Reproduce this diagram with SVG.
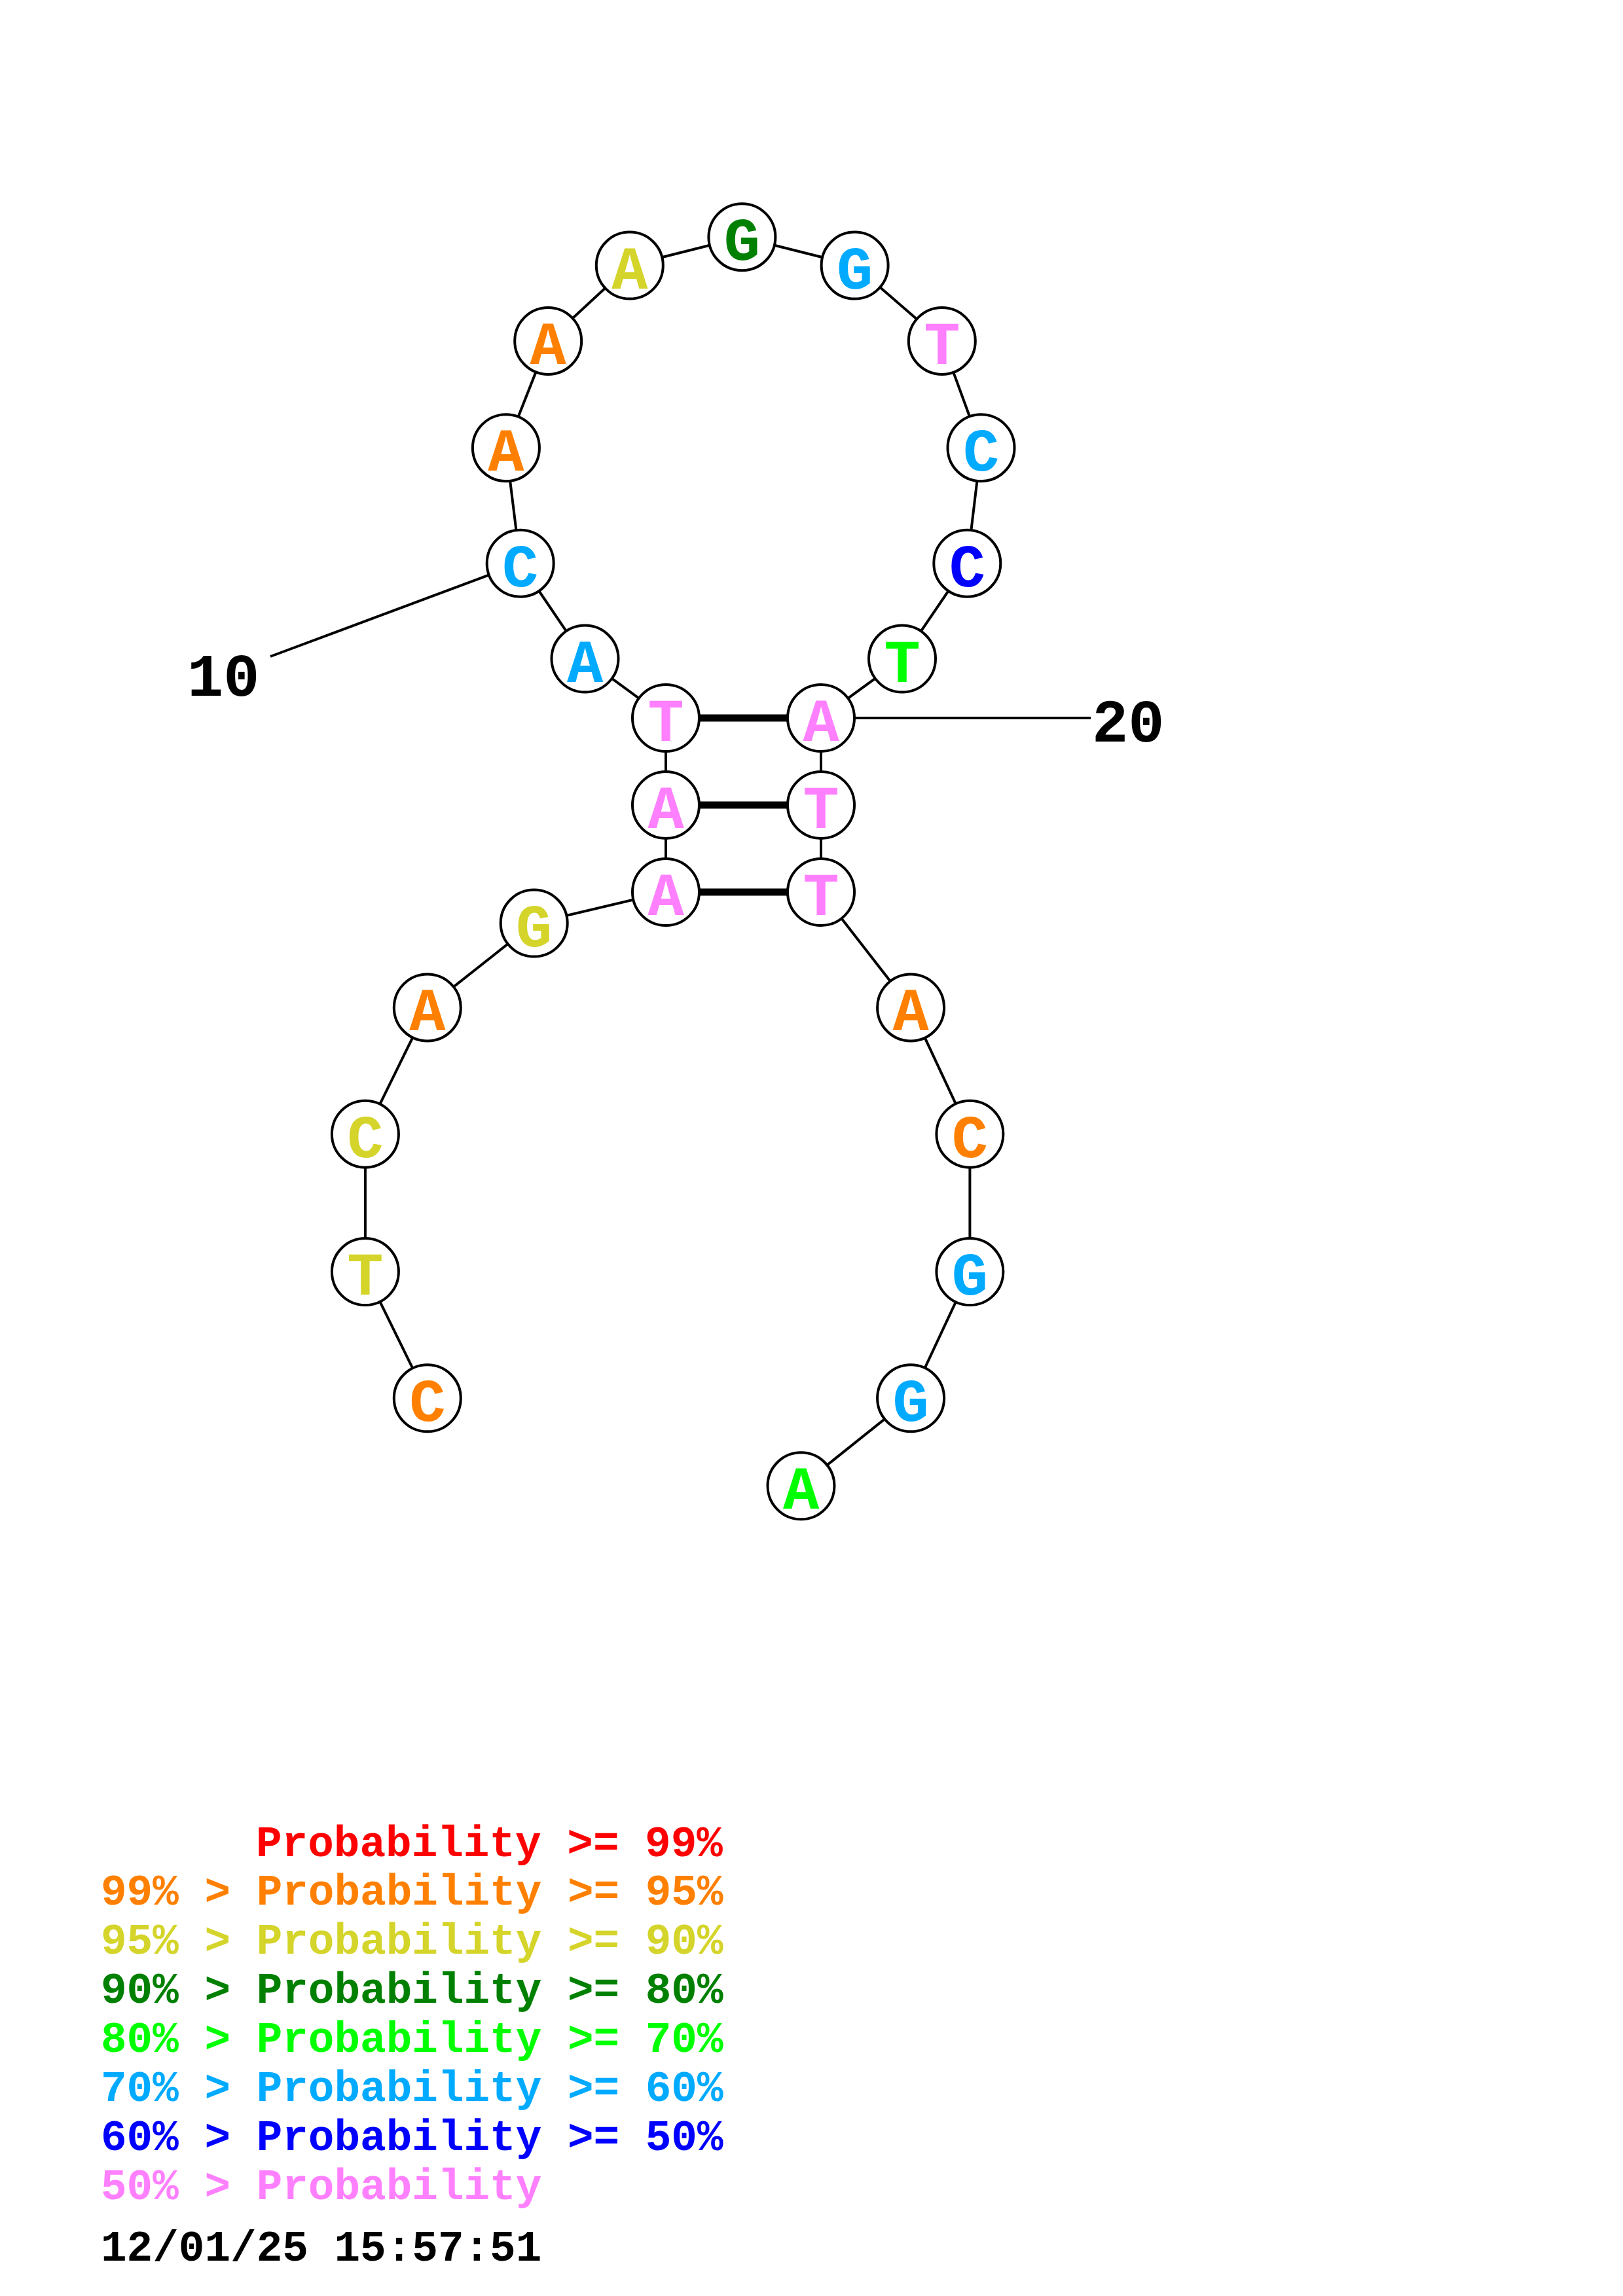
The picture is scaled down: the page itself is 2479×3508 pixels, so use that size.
<svg xmlns="http://www.w3.org/2000/svg" width="2479" height="3508" viewBox="0 0 2479 3508">
<style>
.bb{stroke:#000;stroke-width:4;fill:none}
.bp{stroke:#000;stroke-width:11;fill:none}
.nd circle{fill:#fff;stroke:#000;stroke-width:4}
.nd text{font-family:"Liberation Mono","Courier New",monospace;font-weight:bold;font-size:92px;text-anchor:middle}
.lab{font-family:"Liberation Mono","Courier New",monospace;font-weight:bold;font-size:92px;fill:#000}
.lg{font-family:"Liberation Mono","Courier New",monospace;font-weight:bold;font-size:66px}
.o{fill:#FF8000}.y{fill:#D4D42A}.dg{fill:#008000}.g{fill:#00FF00}.lb{fill:#00AAFF}.b{fill:#0000FF}.p{fill:#FF80FF}.r{fill:#FF0000}
</style>
<g id="connectors">
<polyline class="bb" points="652.8,2136.3 557.9,1943.1 557.9,1732.7 652.8,1539.4 815.7,1410.6 1017,1363 1017,1230 1017,1097 893.5,1006.6 794.7,860.7 772.9,684.2 837.2,520.9 961.8,405.6 1133.4,362.2 1305.6,405.6 1438.8,520.9 1498.5,684.2 1477.3,860.7 1378,1006.6 1254,1097 1254,1230 1254,1363 1391.1,1539.4 1481.4,1732.7 1481.4,1943.1 1391.1,2136.3 1223.5,2270.3"/>
<line class="bp" x1="1017" y1="1097" x2="1254" y2="1097"/>
<line class="bp" x1="1017" y1="1230" x2="1254" y2="1230"/>
<line class="bp" x1="1017" y1="1363" x2="1254" y2="1363"/>
<line class="bb" x1="413" y1="1003" x2="794.7" y2="860.7"/>
<line class="bb" x1="1254" y1="1097" x2="1666" y2="1097"/>
</g>
<g id="n1" class="nd"><circle cx="652.8" cy="2136.3" r="51"/><text x="652.8" y="2171.3" class="o">C</text></g>
<g id="n2" class="nd"><circle cx="557.9" cy="1943.1" r="51"/><text x="557.9" y="1978.1" class="y">T</text></g>
<g id="n3" class="nd"><circle cx="557.9" cy="1732.7" r="51"/><text x="557.9" y="1767.7" class="y">C</text></g>
<g id="n4" class="nd"><circle cx="652.8" cy="1539.4" r="51"/><text x="652.8" y="1574.4" class="o">A</text></g>
<g id="n5" class="nd"><circle cx="815.7" cy="1410.6" r="51"/><text x="815.7" y="1445.6" class="y">G</text></g>
<g id="n6" class="nd"><circle cx="1017" cy="1363" r="51"/><text x="1017" y="1398" class="p">A</text></g>
<g id="n7" class="nd"><circle cx="1017" cy="1230" r="51"/><text x="1017" y="1265" class="p">A</text></g>
<g id="n8" class="nd"><circle cx="1017" cy="1097" r="51"/><text x="1017" y="1132" class="p">T</text></g>
<g id="n9" class="nd"><circle cx="893.5" cy="1006.6" r="51"/><text x="893.5" y="1041.6" class="lb">A</text></g>
<g id="n10" class="nd"><circle cx="794.7" cy="860.7" r="51"/><text x="794.7" y="895.7" class="lb">C</text></g>
<g id="n11" class="nd"><circle cx="772.9" cy="684.2" r="51"/><text x="772.9" y="719.2" class="o">A</text></g>
<g id="n12" class="nd"><circle cx="837.2" cy="520.9" r="51"/><text x="837.2" y="555.9" class="o">A</text></g>
<g id="n13" class="nd"><circle cx="961.8" cy="405.6" r="51"/><text x="961.8" y="440.6" class="y">A</text></g>
<g id="n14" class="nd"><circle cx="1133.4" cy="362.2" r="51"/><text x="1133.4" y="397.2" class="dg">G</text></g>
<g id="n15" class="nd"><circle cx="1305.6" cy="405.6" r="51"/><text x="1305.6" y="440.6" class="lb">G</text></g>
<g id="n16" class="nd"><circle cx="1438.8" cy="520.9" r="51"/><text x="1438.8" y="555.9" class="p">T</text></g>
<g id="n17" class="nd"><circle cx="1498.5" cy="684.2" r="51"/><text x="1498.5" y="719.2" class="lb">C</text></g>
<g id="n18" class="nd"><circle cx="1477.3" cy="860.7" r="51"/><text x="1477.3" y="895.7" class="b">C</text></g>
<g id="n19" class="nd"><circle cx="1378" cy="1006.6" r="51"/><text x="1378" y="1041.6" class="g">T</text></g>
<g id="n20" class="nd"><circle cx="1254" cy="1097" r="51"/><text x="1254" y="1132" class="p">A</text></g>
<g id="n21" class="nd"><circle cx="1254" cy="1230" r="51"/><text x="1254" y="1265" class="p">T</text></g>
<g id="n22" class="nd"><circle cx="1254" cy="1363" r="51"/><text x="1254" y="1398" class="p">T</text></g>
<g id="n23" class="nd"><circle cx="1391.1" cy="1539.4" r="51"/><text x="1391.1" y="1574.4" class="o">A</text></g>
<g id="n24" class="nd"><circle cx="1481.4" cy="1732.7" r="51"/><text x="1481.4" y="1767.7" class="o">C</text></g>
<g id="n25" class="nd"><circle cx="1481.4" cy="1943.1" r="51"/><text x="1481.4" y="1978.1" class="lb">G</text></g>
<g id="n26" class="nd"><circle cx="1391.1" cy="2136.3" r="51"/><text x="1391.1" y="2171.3" class="lb">G</text></g>
<g id="n27" class="nd"><circle cx="1223.5" cy="2270.3" r="51"/><text x="1223.5" y="2305.3" class="g">A</text></g>
<g id="labels">
<text class="lab" x="286" y="1063">10</text>
<text class="lab" x="1668" y="1133">20</text>
</g>
<g id="legend">
<text class="lg r" x="391" y="2836">Probability &gt;= 99%</text>
<text class="lg o" x="154" y="2910">99% &gt; Probability &gt;= 95%</text>
<text class="lg y" x="154" y="2985">95% &gt; Probability &gt;= 90%</text>
<text class="lg dg" x="154" y="3060">90% &gt; Probability &gt;= 80%</text>
<text class="lg g" x="154" y="3135">80% &gt; Probability &gt;= 70%</text>
<text class="lg lb" x="154" y="3210">70% &gt; Probability &gt;= 60%</text>
<text class="lg b" x="154" y="3285">60% &gt; Probability &gt;= 50%</text>
<text class="lg p" x="154" y="3360">50% &gt; Probability</text>
<text class="lg" x="154" y="3454" fill="#000">12/01/25 15:57:51</text>
</g>
</svg>
